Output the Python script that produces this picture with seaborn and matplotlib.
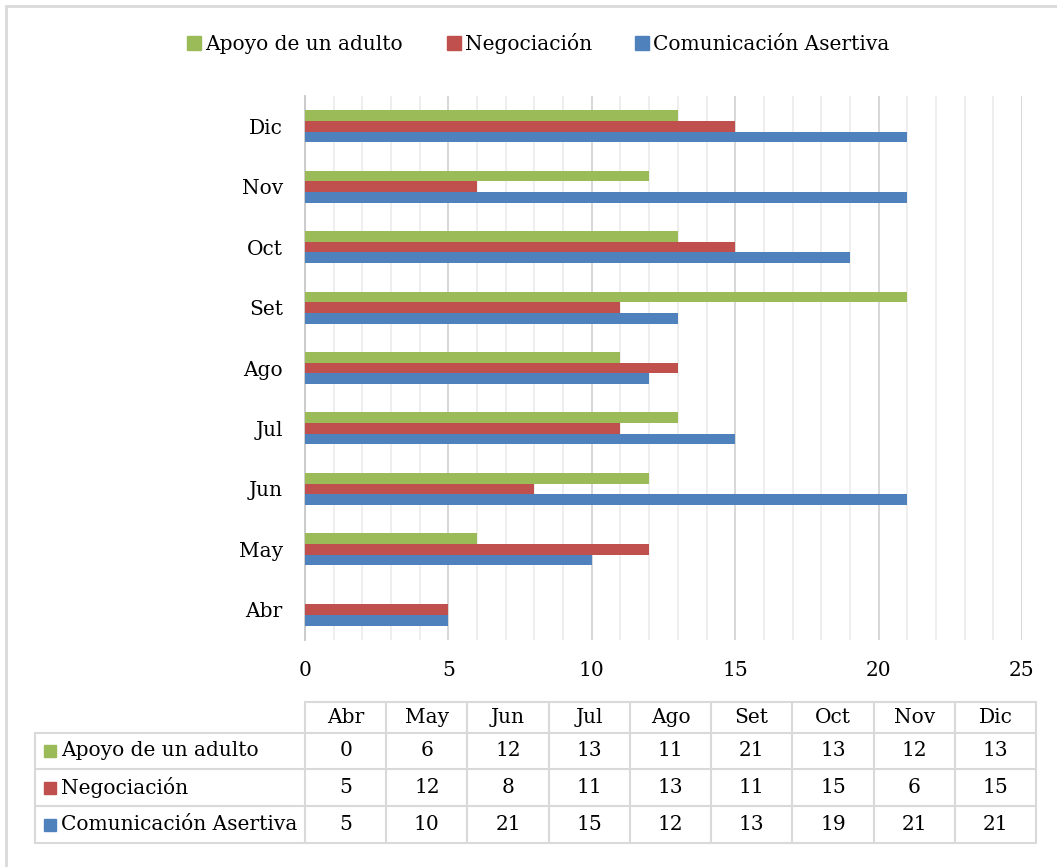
import matplotlib
matplotlib.use('Agg')
import matplotlib.pyplot as plt
from matplotlib.lines import Line2D
from matplotlib.patches import Rectangle
import pandas as pd
import seaborn as sns

# datos del grafico
meses = ['Abr', 'May', 'Jun', 'Jul', 'Ago', 'Set', 'Oct', 'Nov', 'Dic']
series = ['Apoyo de un adulto', 'Negociación', 'Comunicación Asertiva']
apoyo = [0, 6, 12, 13, 11, 21, 13, 12, 13]
negociacion = [5, 12, 8, 11, 13, 11, 15, 6, 15]
comunicacion = [5, 10, 21, 15, 12, 13, 19, 21, 21]
colores = ['#9BBB59', '#C0504D', '#4F81BD']
x_ticks = [0, 5, 10, 15, 20, 25]

sns.set_style('white')
plt.rcParams['font.family'] = ['DejaVu Serif']
plt.rcParams['text.color'] = 'black'
plt.rcParams['xtick.color'] = 'black'
plt.rcParams['ytick.color'] = 'black'
FS = 14.5

W, H = 1057, 867
fig = plt.figure(figsize=(W / 100, H / 100), dpi=100)


def fx(px):
    return px / W


def fy(py):
    return 1 - py / H


ax = fig.add_axes([fx(305), fy(640), fx(1022) - fx(305), fy(96) - fy(640)])

df = pd.DataFrame({
    'mes': meses * 3,
    'serie': [s for s in series for _ in meses],
    'valor': apoyo + negociacion + comunicacion,
})

sns.barplot(data=df, x='valor', y='mes', hue='serie', order=meses[::-1],
            hue_order=series, palette=colores, width=0.53, orient='h',
            saturation=1, errorbar=None, legend=False, edgecolor='none',
            ax=ax, zorder=3)

ax.set_xlim(0, 25)
ax.set_ylim(8.5, -0.5)
ax.set_xticks(x_ticks)
ax.set_xticks(range(0, 26), minor=True)
ax.tick_params(axis='x', which='both', length=0, labelsize=FS, pad=15)
ax.grid(False)
for v in range(0, 26):
    ax.axvline(v, color='#D4D4D4' if v % 5 == 0 else '#EDEDED', lw=1.3, zorder=1)

ax.set_yticks([i - 0.5 for i in range(10)])
ax.set_yticklabels([])
ax.set_yticks(range(9), minor=True)
ax.set_yticklabels(meses[::-1], minor=True)
ax.tick_params(axis='y', which='major', length=6, width=1.3, color='#C8C8C8', direction='out')
ax.tick_params(axis='y', which='minor', length=0, labelsize=FS, pad=16)
ax.set_xlabel('')
ax.set_ylabel('')
for s in ['top', 'right', 'bottom']:
    ax.spines[s].set_visible(False)
ax.spines['left'].set_color('#C8C8C8')
ax.spines['left'].set_linewidth(1.3)

# leyenda superior
handles = [Line2D([], [], marker='s', ls='none', color=c, markersize=10) for c in colores]
fig.legend(handles, series, loc='center', bbox_to_anchor=(fx(539), fy(44)), ncol=3,
           frameon=False, fontsize=FS, handlelength=0.6, handletextpad=0.25,
           columnspacing=2.2)

# tabla de datos
grid_c = '#D9D9D9'
col0 = 305
cw = (1036 - 305) / 9
rows = [702, 733, 769, 806, 843]
right = col0 + 9 * cw


def hline(y, x0, x1):
    fig.add_artist(Line2D([fx(x0), fx(x1)], [fy(y), fy(y)], color=grid_c, lw=1.5))


def vline(x, y0, y1):
    fig.add_artist(Line2D([fx(x), fx(x)], [fy(y0), fy(y1)], color=grid_c, lw=1.5))


hline(rows[0], col0, right)
for y in rows[1:]:
    hline(y, 35, right)
for i in range(10):
    vline(col0 + i * cw, rows[0], rows[-1])
vline(35, rows[1], rows[-1])

for i, m in enumerate(meses):
    fig.text(fx(col0 + (i + 0.5) * cw), fy((rows[0] + rows[1]) / 2), m,
             ha='center', va='center', fontsize=FS)

valores = [apoyo, negociacion, comunicacion]
for r, (nombre, vals, c) in enumerate(zip(series, valores, colores)):
    yc = (rows[r + 1] + rows[r + 2]) / 2
    fig.add_artist(Rectangle((fx(44), fy(yc + 6)), fx(12), fy(0) - fy(12),
                             color=c, transform=fig.transFigure))
    fig.text(fx(61), fy(yc), nombre, ha='left', va='center', fontsize=FS)
    for i, v in enumerate(vals):
        fig.text(fx(col0 + (i + 0.5) * cw), fy(yc), str(v),
                 ha='center', va='center', fontsize=FS)

# borde del grafico
fig.add_artist(Line2D([fx(6), 1], [fy(6), fy(6)], color=grid_c, lw=2))
fig.add_artist(Line2D([fx(6), fx(6)], [fy(6), 0], color=grid_c, lw=2))

fig.savefig('out.png', dpi=100)
